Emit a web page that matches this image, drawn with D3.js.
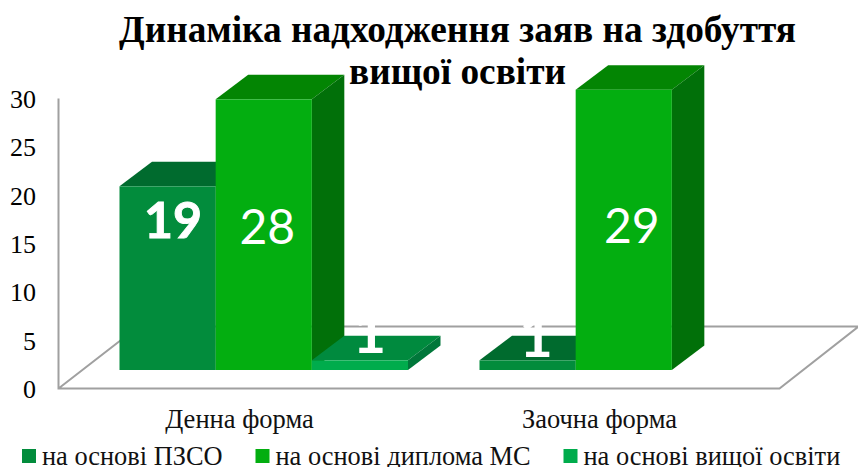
<!DOCTYPE html>
<html><head><meta charset="utf-8">
<style>html,body{margin:0;padding:0;background:#fff}svg{display:block}</style>
<script src="https://cdnjs.cloudflare.com/ajax/libs/d3/7.8.5/d3.min.js"></script>
</head><body><svg id="c" width="858" height="467"></svg>
<script>
const categories = ["Денна форма", "Заочна форма"];
const seriesNames = ["на основі ПЗСО", "на основі диплома МС", "на основі вищої освіти"];
const pzso = [19, 1];
const diplomaMs = [28, 29];
const higherEd = [1, 0];
const yTicks = [0, 5, 10, 15, 20, 25, 30];
const titleLines = ["Динаміка надходження заяв на здобуття", "вищої освіти"];

const palette = [
  {front:"#028c3c", top:"#006b2e", side:"#00602a"},
  {front:"#03ae10", top:"#038503", side:"#017009"},
  {front:"#00ac4c", top:"#008a3e", side:"#00773a"}
];
const serif = "'Liberation Serif','Times New Roman',serif";
const svg = d3.select("#c");

const y = d3.scaleLinear().domain([0, 30]).range([388.5, 98.5]);
const x0 = d3.scaleBand().domain(categories).range([59.5, 779.5]);
const x1 = d3.scaleBand().domain(seriesNames).range([60, 348.5]);
const depth = {dx: 32.5, dy: -24.5};
const lift = 18.5;
const grey = "#a0a0a0";

const backY = y(0) + depth.dy * 2.53;
const floorDx = 79;
svg.append("path")
  .attr("d", `M${x0.range()[0]-1},${y(30)}V${y(0)}H${x0.range()[1]}L${x0.range()[1]+floorDx},${backY}H${x0.range()[0]+floorDx}L${x0.range()[0]-1},${y(0)}`)
  .attr("fill","none").attr("stroke",grey).attr("stroke-width",2);

const yAxis = d3.axisLeft(y).tickValues(yTicks).tickSize(0).tickPadding(0);
const gy = svg.append("g").attr("transform","translate(36,0)").call(yAxis).attr("font-family",serif).attr("font-size",26);
gy.select(".domain").remove();
gy.selectAll("text").attr("fill","#000").attr("dy","0.34em");

const seriesValues = [pzso, diplomaMs, higherEd];
const bars = [];
categories.forEach((c, ci) => seriesNames.forEach((s, si) => {
  const v = seriesValues[si][ci];
  if (v > 0) bars.push({c, s, si, v});
}));
const g = svg.append("g");
bars.forEach(b => {
  const xl = x0(b.c) + x1(b.s), xr = xl + x1.bandwidth();
  const yb = y(0) - lift, yt = y(b.v) - lift;
  const p = palette[b.si];
  g.append("path").attr("fill",p.top)
    .attr("d",`M${xl},${yt}L${xl+depth.dx},${yt+depth.dy}H${xr+depth.dx}L${xr},${yt}Z`);
  g.append("path").attr("fill",p.side)
    .attr("d",`M${xr},${yt}L${xr+depth.dx},${yt+depth.dy}V${yb+depth.dy}L${xr},${yb}Z`);
  g.append("rect").attr("x",xl).attr("y",yt).attr("width",xr-xl).attr("height",yb-yt).attr("fill",p.front);
});

const labelLayout = {
  "0-0": {dx: 5.5, dy: 33.5, w: 700, s: 50, sw: 0.9},
  "0-1": {dx: 3.5, dy: 127.5, w: 400, s: 48, sw: 0},
  "0-2": {dx: 9.5, dy: -28.5, w: 700, s: 58, sw: 0},
  "1-0": {dx: 8.5, dy: -24.5, w: 700, s: 58, sw: 0},
  "1-1": {dx: 8, dy: 136, w: 400, s: 48, sw: 0}
};
const defs = svg.append("defs");
defs.append("clipPath").attr("id","lc").append("rect").attr("x",0).attr("y",325).attr("width",858).attr("height",60);
bars.forEach(b => {
  const key = categories.indexOf(b.c) + "-" + b.si;
  const l = labelLayout[key];
  const cx = x0(b.c) + x1(b.s) + x1.bandwidth()/2 + l.dx;
  const cy = y(b.v) - lift + l.dy;
  const wrap = svg.append("g");
  if (b.v === 1) wrap.attr("clip-path","url(#lc)");
  wrap.append("text").attr("x",cx).attr("y",cy).attr("dy","0.36em")
    .attr("text-anchor","middle").attr("font-family","Lato,'Open Sans',sans-serif")
    .attr("font-weight",l.w).attr("font-size",l.s).attr("fill","#fff")
    .attr("stroke","#fff").attr("stroke-width",l.sw).text(b.v);
});

svg.append("g").selectAll("text").data(categories).join("text")
  .attr("x",d=>x0(d)+x0.bandwidth()/2).attr("y",428)
  .attr("text-anchor","middle").attr("font-family",serif).attr("font-size",26.5).attr("fill","#111").text(d=>d);

svg.append("g").selectAll("text").data(titleLines).join("text")
  .attr("x",457.5).attr("y",(d,i)=>42+i*42)
  .attr("text-anchor","middle").attr("font-family",serif).attr("font-weight",700).attr("font-size",37.3).attr("fill","#000").text(d=>d);

const legendX = [22, 255.5, 563.5];
const lg = svg.append("g").selectAll("g").data(seriesNames).join("g")
  .attr("transform",(d,i)=>`translate(${legendX[i]},0)`);
lg.append("rect").attr("y",449).attr("width",14).attr("height",14).attr("fill",(d,i)=>palette[i].front);
lg.append("text").attr("x",20).attr("y",465).attr("font-family",serif).attr("font-size",26.4).attr("fill","#111").text(d=>d);
</script></body></html>
